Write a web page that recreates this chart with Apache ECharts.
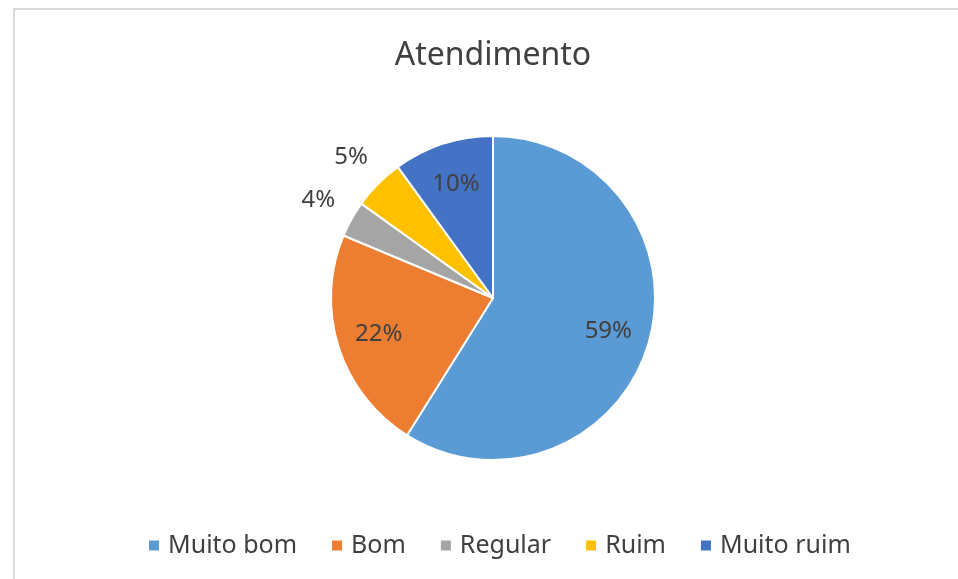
<!DOCTYPE html>
<html>
<head>
<meta charset="utf-8">
<script src="https://cdn.jsdelivr.net/npm/echarts@6/dist/echarts.min.js"></script>
<style>
  html, body { margin: 0; padding: 0; overflow: hidden; background: #fff; }
  #chart { width: 986px; height: 579px; }
</style>
</head>
<body>
<div id="chart"></div>
<script>
  const CATEGORIES = ["Muito bom", "Bom", "Regular", "Ruim", "Muito ruim"];
  const VALUES = [58.9, 22.4, 3.6, 5.1, 10.0];
  const COLORS = ["#5B9BD5", "#ED7D31", "#A5A5A5", "#FFC000", "#4472C4"];
  // which slices carry their label outside the pie
  const OUTSIDE = ["Regular", "Ruim"];

  const FONT = "Noto Sans";
  const TEXT = "#404040";
  const CENTER = ["50%", 298];
  const R = 162;

  function labelSeries(radius, outside) {
    return {
      type: "pie",
      silent: true,
      center: CENTER,
      radius: radius,
      startAngle: 90,
      clockwise: true,
      percentPrecision: 0,
      legendHoverLink: false,
      itemStyle: { color: "rgba(0,0,0,0)", borderWidth: 0 },
      labelLine: { show: false },
      data: CATEGORIES.map((name, i) => ({
        name: name,
        value: VALUES[i],
        label: {
          show: OUTSIDE.includes(name) === outside,
          position: "inside",
          formatter: "{d}%",
          color: TEXT,
          fontFamily: FONT,
          fontSize: 24
        }
      }))
    };
  }

  const chart = echarts.init(document.getElementById("chart"), null, { renderer: "canvas" });

  chart.setOption({
    animation: false,
    color: COLORS,
    title: {
      text: "Atendimento",
      left: "center",
      top: 35,
      textStyle: { fontFamily: FONT, fontSize: 32, fontWeight: "normal", color: TEXT }
    },
    legend: {
      data: CATEGORIES,
      left: 142,
      top: 528,
      icon: "rect",
      itemWidth: 12,
      itemHeight: 12,
      itemGap: 33,
      textStyle: { fontFamily: FONT, fontSize: 25, color: TEXT, padding: [0, 0, 0, 3] }
    },
    graphic: [{
      type: "rect",
      shape: { x: 14, y: 9, width: 1000, height: 620 },
      style: { fill: "none", stroke: "#d9d9d9", lineWidth: 2 },
      silent: true
    }],
    series: [
      {
        name: "Atendimento",
        type: "pie",
        center: CENTER,
        radius: R,
        startAngle: 90,
        clockwise: true,
        itemStyle: { borderColor: "#fff", borderWidth: 2 },
        label: { show: false },
        labelLine: { show: false },
        data: CATEGORIES.map((name, i) => ({ name: name, value: VALUES[i] }))
      },
      labelSeries([72, R], false),
      labelSeries([R, 232], true)
    ]
  });
</script>
</body>
</html>
